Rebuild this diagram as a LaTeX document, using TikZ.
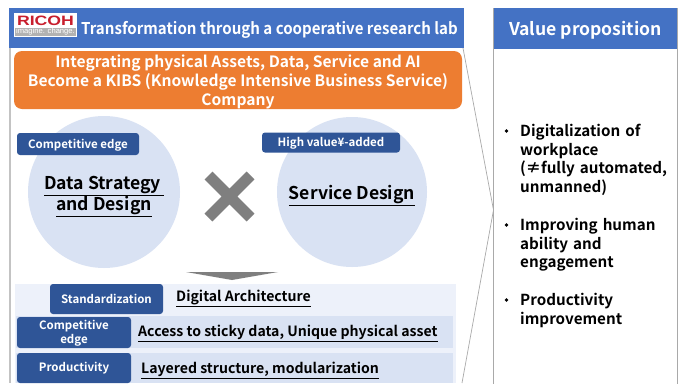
\documentclass[tikz,border=0pt]{standalone}
\usepackage{fontspec}
\setmainfont{Noto Sans CJK JP}[BoldFont={Noto Sans CJK JP Bold}]
\newfontfamily\logofont{Liberation Sans}[BoldFeatures={FakeStretch=1.3}]
\newfontfamily\titlefont{Noto Sans CJK JP Bold}[FakeStretch=0.93]
\usetikzlibrary{calc}
\definecolor{hdr}{HTML}{4472C4}
\definecolor{org}{HTML}{ED7D31}
\definecolor{pale}{HTML}{D9E2F3}
\definecolor{paler}{HTML}{EDF1FA}
\definecolor{tag}{HTML}{2F5597}
\definecolor{bord}{HTML}{A9A9A9}
\definecolor{gr}{HTML}{7F7F7F}
\newcommand{\ul}[1]{\underline{#1}}
\tikzset{
  x=1pt,y=-1pt,
  tagbox/.style={fill=tag,rounded corners=3pt,inner sep=0pt,text=white,font=\bfseries\fontsize{11.5}{13}\selectfont,align=center},
  tagtext/.style={inner sep=0pt,text=white,font=\bfseries\fontsize{11.5}{14}\selectfont,align=center},
  disc/.style={circle,fill=pale,draw=none,inner sep=0pt},
  lab/.style={anchor=west,inner sep=0pt,text=black,font=\bfseries\fontsize{14.1}{17}\selectfont},
  bul/.style={anchor=north west,inner sep=0pt,text=black,font=\bfseries\fontsize{15.2}{18.6}\selectfont,align=left,text width=160pt},
  panelline/.style={draw=bord,line width=0.7pt},
}
\begin{document}
\begin{tikzpicture}
\useasboundingbox (0,0) rectangle (684,383);
\fill[white] (0,0) rectangle (684,383);
% left panel frame
\draw[bord!70,line width=2pt] (9.5,8) -- (9.5,383);
\coordinate (p1) at (463,48);
\coordinate (p2) at (493.5,210);
\coordinate (p3) at (462,383);
\draw[panelline] (p1) -- (p2) -- (p3);
% header
\fill[hdr] (9,8) rectangle (463.5,48);
\node[anchor=west,inner sep=0pt,text=white,font=\titlefont\fontsize{16.2}{20}\selectfont] (title) at (81,30) {Transformation through a cooperative research lab};
% logo
\fill[white] (14,13) rectangle (77,36.5);
\fill[gray!60] (15,28) rectangle (76,35.5);
\node[inner sep=0pt,text={rgb,255:red,200;green,30;blue,45},font=\logofont\bfseries\fontsize{13.6}{14}\selectfont] (logo) at (45.5,20.5) {RICOH};
\node[inner sep=0pt,text=white,font=\logofont\fontsize{7.6}{8}\selectfont] (slogan) at (45.5,31.9) {imagine. change.};
% orange
\node[fill=org,rounded corners=8pt,minimum width=448pt,minimum height=58pt,inner sep=0pt] (goal) at (238,80) {};
\node[inner sep=0pt,text=white,align=center,font=\bfseries\fontsize{15.6}{19}\selectfont] (goaltext) at (238,81.5)
 {Integrating physical Assets, Data, Service and AI\\Become a KIBS (Knowledge Intensive Business Service)\\Company};
% circles
\node[disc,minimum size=152pt] (c1) at (104,192) {};
\node[disc,minimum size=150pt] (c2) at (352,192) {};
\node[tagbox,minimum width=122pt,minimum height=22pt] (t1) at (78,144) {};
\node[tagtext] (t1t) at (78,145) {Competitive edge};
\node[tagbox,minimum width=138pt,minimum height=20pt] (t2) at (331,142.5) {};
\node[tagtext] (t2t) at (331,143) {High value¥-added};
\node[inner sep=0pt,align=center,font=\bfseries\fontsize{17.6}{21}\selectfont] (n1) at (104,196.5) {\ul{Data Strategy\,}\\\ul{and Design}};
\node[inner sep=0pt,font=\bfseries\fontsize{17.6}{21}\selectfont] (n2) at (352,195.5) {\ul{Service Design}};
% times sign
\draw[gr,line width=11pt] (208.5,175.5) -- (250.5,217.5) (250.5,175.5) -- (208.5,217.5);
% arrow
\fill[gr] (186,272) -- (278,272) -- (232,280) -- cycle;
% lower block
\fill[paler] (15,284) rectangle (456,383);
\fill[pale] (16,316) rectangle (453,348);
\fill[pale] (16,353) rectangle (453,383);
\node[tagbox,minimum width=113pt,minimum height=30pt] (s1) at (106.5,299) {};
\node[tagtext] (s1t) at (106.5,299) {Standardization};
\node[tagbox,minimum width=114pt,minimum height=31pt] (s2) at (74,332.5) {};
\node[tagtext] (s2t) at (74,333.5) {Competitive\\edge};
\node[tagbox,minimum width=114pt,minimum height=30pt] (s3) at (74,368) {};
\node[tagtext] (s3t) at (74,368) {Productivity};
\node[lab] (a1) at (176,298.5) {\ul{Digital Architecture}};
\node[lab] (a2) at (138,333.5) {\ul{Access to sticky data, Unique physical asset}};
\node[lab] (a3) at (141,370.5) {\ul{Layered structure, modularization}};
% right panel
\draw[panelline] (493.5,8) rectangle (677,390);
\fill[hdr] (493.5,8) rectangle (677,49);
\node[text=white,inner sep=0pt,font=\bfseries\fontsize{17.6}{21}\selectfont] (vp) at (585.5,30) {Value proposition};
\node[bul] (b1) at (520,124) {Digitalization of\\workplace\\(≠fully automated,\\unmanned)};
\node[bul] (b2) at (520,218) {Improving human\\ability and\\engagement};
\node[bul] (b3) at (520,293) {Productivity\\improvement};
\foreach \y in {131,225,300} \fill[black] (506.5,\y) circle (1.8pt);
\end{tikzpicture}
\end{document}
